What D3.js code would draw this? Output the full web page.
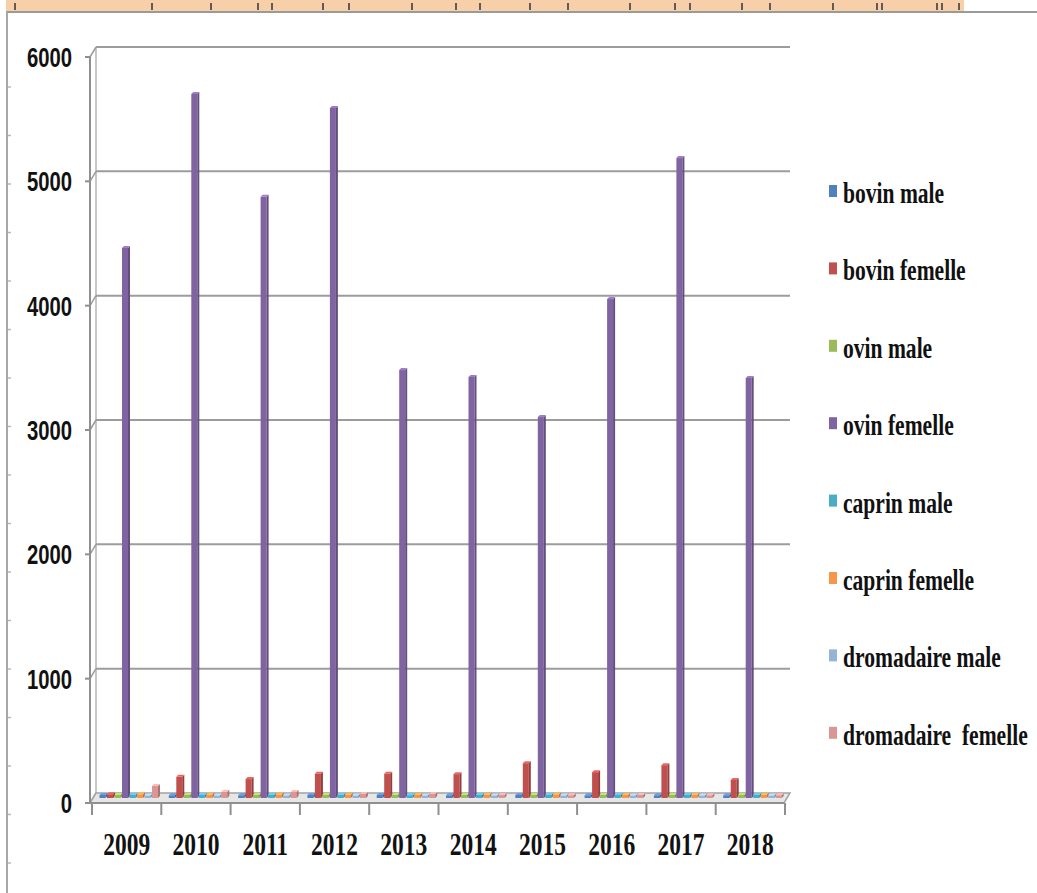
<!DOCTYPE html>
<html>
<head>
<meta charset="utf-8">
<script src="https://cdn.jsdelivr.net/npm/d3@7"></script>
<style>
  html, body { margin: 0; padding: 0; background: #fff; }
  svg { display: block; }
</style>
</head>
<body>
<div id="chart"></div>
<script>
// data
const years = ['2009', '2010', '2011', '2012', '2013', '2014', '2015', '2016', '2017', '2018']
const seriesNames = ['bovin male', 'bovin femelle', 'ovin male', 'ovin femelle',
  'caprin male', 'caprin femelle', 'dromadaire male', 'dromadaire  femelle']
const bovinMale = [24, 22, 22, 24, 24, 22, 24, 22, 22, 22]
const bovinFemelle = [30, 170, 152, 195, 195, 192, 280, 208, 264, 145]
const ovinMale = [24, 24, 24, 24, 24, 24, 24, 24, 24, 24]
const ovinFemelle = [4424, 5663, 4835, 5550, 3442, 3386, 3064, 4013, 5147, 3378]
const caprinMale = [25, 24, 25, 24, 23, 24, 25, 24, 24, 24]
const caprinFemelle = [30, 28, 28, 26, 24, 26, 28, 24, 26, 26]
const dromadaireMale = [20, 20, 20, 20, 20, 20, 20, 20, 20, 20]
const dromadaireFemelle = [96, 50, 48, 32, 32, 24, 22, 24, 22, 22]
const yTicks = [0, 1000, 2000, 3000, 4000, 5000, 6000]

const seriesValues = [bovinMale, bovinFemelle, ovinMale, ovinFemelle,
  caprinMale, caprinFemelle, dromadaireMale, dromadaireFemelle]
const colors = ['#4F81BD', '#C0504D', '#9BBB59', '#8064A2', '#4BACC6', '#F79646', '#95B3D7', '#D99694']

const W = 1037
const H = 893
const DEPTH_X = 6
const DEPTH_Y = 10
const SERIF = '"Liberation Serif", "Times New Roman", serif'
const SANS = '"Liberation Sans", Arial, sans-serif'

const svg = d3.select('#chart').append('svg').attr('width', W).attr('height', H)

// scales (y is the mid-depth plane where the bars stand)
const y = d3.scaleLinear().domain([0, 6000]).range([798, 52])
const yFront = (v) => y(v) + DEPTH_Y / 2
const yBack = (v) => y(v) - DEPTH_Y / 2
const x0 = d3.scaleBand().domain(years).range([92, 785])
const x1 = d3.scaleBand().domain(seriesNames).range([4.5, 64.5])

// leftovers of the page around the figure
const frame = svg.append('g').attr('class', 'frame')
frame.append('rect').attr('x', 6).attr('y', 0).attr('width', 958).attr('height', 11).attr('fill', '#f7cfa8')
frame.append('line').attr('x1', 6).attr('x2', W).attr('y1', 12).attr('y2', 12)
  .attr('stroke', '#9a9a9a').attr('stroke-width', 2)
frame.append('line').attr('x1', 7).attr('x2', 7).attr('y1', 12).attr('y2', H)
  .attr('stroke', '#a8a8a8').attr('stroke-width', 2)
const stripTicks = [15, 152, 211, 258, 272, 323, 349, 412, 456, 480, 530, 568, 630, 675, 690, 742, 770, 833, 877, 882, 937, 942, 959]
frame.selectAll('line.strip').data(stripTicks).enter().append('line')
  .attr('class', 'strip')
  .attr('x1', (d) => d).attr('x2', (d) => d).attr('y1', 3).attr('y2', 10)
  .attr('stroke', '#333').attr('stroke-width', 1.5)
frame.selectAll('line.side').data(d3.range(87, H, 48.5)).enter().append('line')
  .attr('class', 'side')
  .attr('x1', 8).attr('x2', 11).attr('y1', (d) => d).attr('y2', (d) => d)
  .attr('stroke', '#b0b8c8').attr('stroke-width', 1.5)

// back wall, gridlines
const grid = svg.append('g').attr('class', 'grid')
grid.append('line')
  .attr('x1', 90 + DEPTH_X).attr('x2', 90 + DEPTH_X)
  .attr('y1', yBack(6000)).attr('y2', yBack(0))
  .attr('stroke', '#b5b5b5').attr('stroke-width', 1.5)
grid.selectAll('line.gl').data(yTicks.filter((d) => d > 0)).enter().append('line')
  .attr('class', 'gl')
  .attr('x1', 90 + DEPTH_X).attr('x2', 790)
  .attr('y1', (d) => yBack(d)).attr('y2', (d) => yBack(d))
  .attr('stroke', '#9c9c9c').attr('stroke-width', 2)
grid.selectAll('line.conn').data(yTicks).enter().append('line')
  .attr('class', 'conn')
  .attr('x1', 90).attr('x2', 90 + DEPTH_X)
  .attr('y1', (d) => yFront(d)).attr('y2', (d) => yBack(d))
  .attr('stroke', '#9c9c9c').attr('stroke-width', 1.5)

// floor
svg.append('polygon')
  .attr('points', [[90, yFront(0)], [784, yFront(0)], [790, yBack(0)], [90 + DEPTH_X, yBack(0)]].join(' '))
  .attr('fill', '#e6e6e6').attr('stroke', '#a3a3a3').attr('stroke-width', 1.5)

// bars with a thin 3d side and top
const bars = []
years.forEach((yr, i) => {
  seriesNames.forEach((s, j) => {
    bars.push({ year: yr, series: s, value: seriesValues[j][i], color: colors[j] })
  })
})
const FACE = 6
const SIDE = 2
const barG = svg.append('g').attr('class', 'bars')
const bar = barG.selectAll('g').data(bars).enter().append('g')
  .attr('transform', (d) => `translate(${x0(d.year) + x1(d.series) + 3},0)`)
bar.append('rect')
  .attr('x', 0).attr('width', FACE)
  .attr('y', (d) => y(d.value)).attr('height', (d) => y(0) - y(d.value))
  .attr('fill', (d) => d.color)
bar.append('polygon')
  .attr('points', (d) => [[FACE, y(d.value)], [FACE + SIDE, y(d.value) - SIDE],
    [FACE + SIDE, y(0) - SIDE], [FACE, y(0)]].join(' '))
  .attr('fill', (d) => d3.color(d.color).darker(0.7))
bar.append('polygon')
  .attr('points', (d) => [[0, y(d.value)], [SIDE, y(d.value) - SIDE],
    [FACE + SIDE, y(d.value) - SIDE], [FACE, y(d.value)]].join(' '))
  .attr('fill', (d) => d3.color(d.color).brighter(0.6))

// front axes
const axes = svg.append('g').attr('class', 'axes')
axes.append('line').attr('x1', 90).attr('x2', 90).attr('y1', yFront(6000)).attr('y2', yFront(0))
  .attr('stroke', '#8f8f8f').attr('stroke-width', 2)
axes.selectAll('line.yt').data(yTicks).enter().append('line')
  .attr('class', 'yt')
  .attr('x1', 85).attr('x2', 90)
  .attr('y1', (d) => yFront(d)).attr('y2', (d) => yFront(d))
  .attr('stroke', '#8f8f8f').attr('stroke-width', 2)
axes.append('line').attr('x1', 90).attr('x2', 784).attr('y1', yFront(0)).attr('y2', yFront(0))
  .attr('stroke', '#8f8f8f').attr('stroke-width', 2)
const boundaries = years.map((d) => x0(d)).concat([x0.range()[1]])
axes.selectAll('line.xt').data(boundaries).enter().append('line')
  .attr('class', 'xt')
  .attr('x1', (d) => d).attr('x2', (d) => d)
  .attr('y1', yFront(0)).attr('y2', yFront(0) + 12)
  .attr('stroke', '#8f8f8f').attr('stroke-width', 2)

// tick labels
axes.selectAll('text.yl').data(yTicks).enter().append('text')
  .attr('class', 'yl')
  .attr('transform', (d) => `translate(72,${yFront(d) + 10}) scale(0.78,1.07)`)
  .attr('text-anchor', 'end')
  .attr('font-family', SANS).attr('font-weight', 'bold').attr('font-size', 26)
  .attr('fill', '#111')
  .text((d) => d)
axes.selectAll('text.xl').data(years).enter().append('text')
  .attr('class', 'xl')
  .attr('transform', (d) => `translate(${x0(d) + x0.bandwidth() / 2},855) scale(1,1.3)`)
  .attr('text-anchor', 'middle')
  .attr('font-family', SERIF).attr('font-weight', 'bold').attr('font-size', 23.5)
  .attr('fill', '#111')
  .text((d) => d)

// legend
const legend = svg.append('g').attr('class', 'legend')
const item = legend.selectAll('g').data(seriesNames).enter().append('g')
  .attr('transform', (d, i) => `translate(829,${191 + i * 77.4})`)
item.append('rect')
  .attr('x', 0).attr('y', -6).attr('width', 8).attr('height', 12)
  .attr('fill', (d, i) => colors[i])
item.append('text')
  .attr('transform', 'translate(14,12) scale(0.98,1.3)')
  .attr('font-family', SERIF).attr('font-weight', 'bold').attr('font-size', 22)
  .attr('fill', '#111')
  .style('white-space', 'pre')
  .text((d) => d)
</script>
</body>
</html>
